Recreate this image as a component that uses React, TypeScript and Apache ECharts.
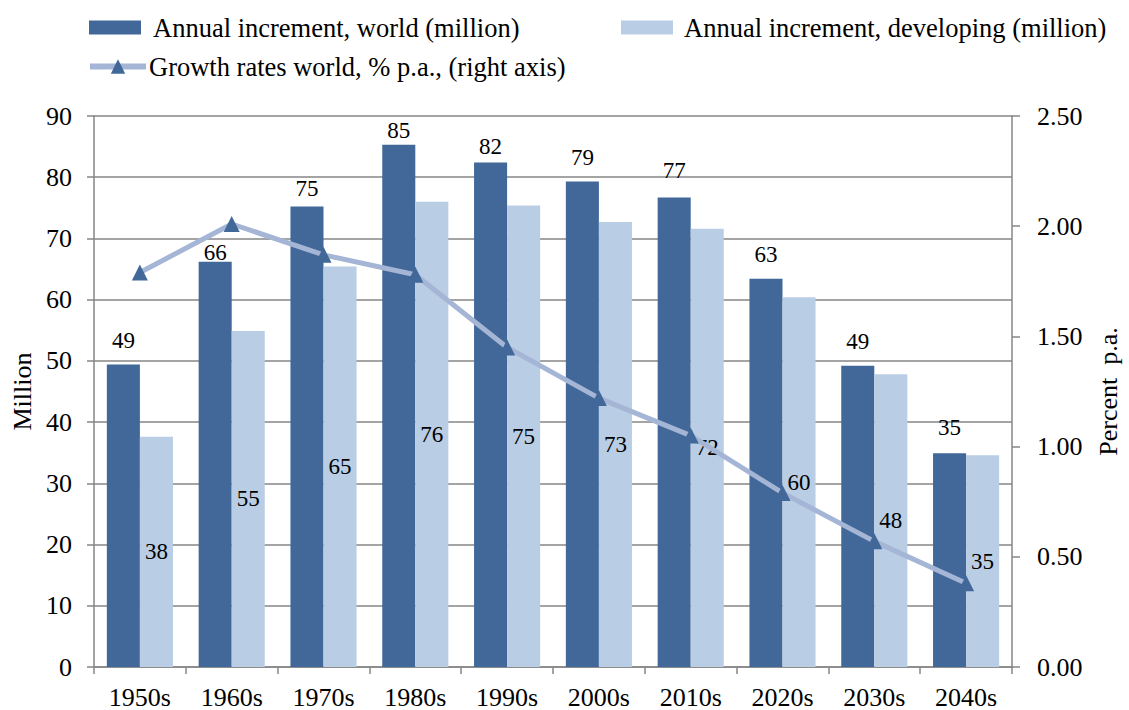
import React, { useEffect, useRef } from "react";
import * as echarts from "echarts";

const categories = ["1950s", "1960s", "1970s", "1980s", "1990s", "2000s", "2010s", "2020s", "2030s", "2040s"];
const worldIncrement = [49.4, 66.2, 75.2, 85.3, 82.4, 79.3, 76.7, 63.4, 49.2, 34.9];
const developingIncrement = [37.6, 54.9, 65.4, 76.0, 75.4, 72.7, 71.6, 60.4, 47.8, 34.6];
const growthRates = [1.79, 2.01, 1.87, 1.78, 1.45, 1.22, 1.05, 0.79, 0.57, 0.38];
// label gap above each world bar (style, px)
const worldLabelGap = [13, -2, 7, 3, 5, 13, 15, 13, 13, 14];

const FONT = "Liberation Serif";
const AXIS_GRAY = "#868686";
const WORLD_COLOR = "#416899";
const DEV_COLOR = "#B9CDE5";
const LINE_COLOR = "#A4B5D5";

export default function App() {
  const ref = useRef<HTMLDivElement>(null);
  useEffect(() => {
    const chart = echarts.init(ref.current!, null, { renderer: "svg" });
    const legendText = { fontFamily: FONT, fontSize: 26.5, color: "#000" };
    chart.setOption({
      animation: false,
      textStyle: { fontFamily: FONT },
      legend: [
        {
          left: 89, top: 14, padding: 0, itemWidth: 52, itemHeight: 14, icon: "rect",
          data: ["Annual increment, world (million)"],
          textStyle: { ...legendText, padding: [0, 0, 0, 7] },
        },
        {
          left: 621, top: 14, padding: 0, itemWidth: 52, itemHeight: 14, icon: "rect",
          data: ["Annual increment, developing (million)"],
          textStyle: { ...legendText, padding: [0, 0, 0, 6] },
        },
        {
          left: 87, top: 53, padding: 0, itemWidth: 56, itemHeight: 18,
          data: ["Growth rates world, % p.a., (right axis)"],
          lineStyle: { width: 6, color: LINE_COLOR },
          textStyle: { ...legendText, padding: [0, 0, 0, -2] },
        },
      ],
      grid: { left: 94, right: 113, top: 116, bottom: 43 },
      xAxis: {
        type: "category",
        data: categories,
        axisLine: { lineStyle: { color: AXIS_GRAY, width: 1.5 } },
        axisTick: { show: true, length: 7, lineStyle: { color: AXIS_GRAY, width: 1.5 } },
        axisLabel: { fontFamily: FONT, fontSize: 26, color: "#000", margin: 17 },
      },
      yAxis: [
        {
          type: "value", min: 0, max: 90, interval: 10,
          name: "Million", nameLocation: "middle", nameRotate: 90, nameGap: 58,
          nameTextStyle: { fontFamily: FONT, fontSize: 26, color: "#000" },
          axisLine: { show: true, lineStyle: { color: AXIS_GRAY, width: 1.5 } },
          axisTick: { show: true, length: 7, lineStyle: { color: AXIS_GRAY, width: 1.5 } },
          splitLine: { show: true, lineStyle: { color: AXIS_GRAY, width: 1.5 } },
          axisLabel: { fontFamily: FONT, fontSize: 26, color: "#000", margin: 22 },
        },
        {
          type: "value", min: 0, max: 2.5, interval: 0.5, position: "right",
          name: "Percent  p.a.", nameLocation: "middle", nameRotate: 90, nameGap: 83,
          nameTextStyle: { fontFamily: FONT, fontSize: 26, color: "#000" },
          axisLine: { show: true, lineStyle: { color: AXIS_GRAY, width: 1.5 } },
          axisTick: { show: true, length: 8, lineStyle: { color: AXIS_GRAY, width: 1.5 } },
          splitLine: { show: false },
          axisLabel: {
            fontFamily: FONT, fontSize: 26, color: "#000", margin: 25,
            formatter: (v: number) => v.toFixed(2),
          },
        },
      ],
      series: [
        {
          name: "Annual increment, world (million)",
          type: "bar",
          data: worldIncrement.map((v, i) => ({ value: v, label: { distance: worldLabelGap[i] } })),
          barGap: "0%",
          barCategoryGap: "28%",
          itemStyle: { color: WORLD_COLOR },
          label: {
            show: true, position: "top", distance: 13,
            fontFamily: FONT, fontSize: 23, color: "#000",
            formatter: (p: any) => String(Math.round(p.value)),
          },
        },
        {
          name: "Annual increment, developing (million)",
          type: "bar",
          data: developingIncrement,
          itemStyle: { color: DEV_COLOR },
          label: {
            show: true, position: "inside",
            fontFamily: FONT, fontSize: 23, color: "#000",
            formatter: (p: any) => String(Math.round(p.value)),
          },
        },
        {
          name: "Growth rates world, % p.a., (right axis)",
          type: "line",
          yAxisIndex: 1,
          data: growthRates,
          symbol: "triangle",
          symbolSize: 16,
          itemStyle: { color: WORLD_COLOR },
          lineStyle: { color: LINE_COLOR, width: 5 },
          z: 5,
        },
      ],
    });
    return () => chart.dispose();
  }, []);
  return <div ref={ref} style={{ position: "absolute", left: 0, top: 0, width: 1129, height: 710 }} />;
}
